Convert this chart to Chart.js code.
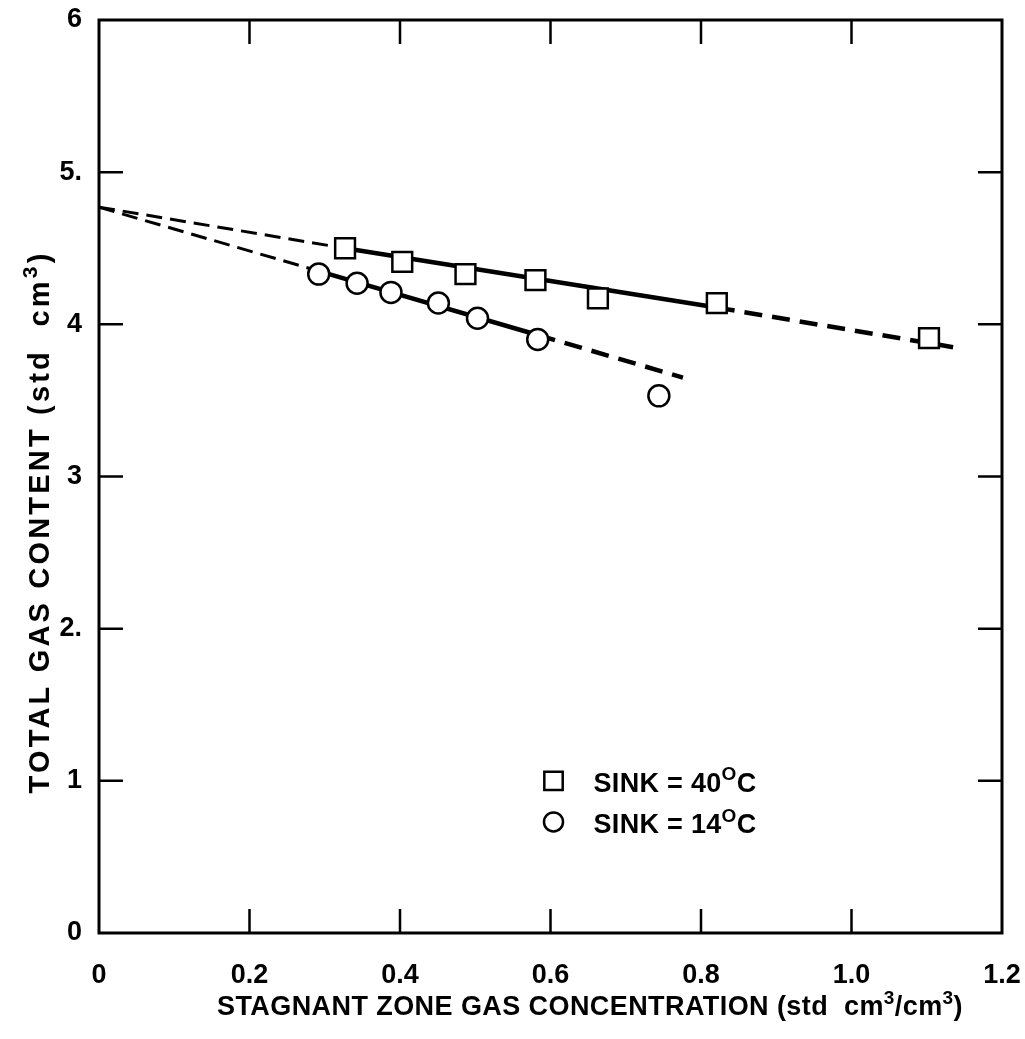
<!DOCTYPE html>
<html>
<head>
<meta charset="utf-8">
<script src="https://cdn.jsdelivr.net/npm/chart.js@4.4.1/dist/chart.umd.min.js"></script>
<style>
  html, body { margin: 0; padding: 0; background: #fff; }
  #wrap { width: 1025px; height: 1039px; }
</style>
</head>
<body>
<div id="wrap"><canvas id="myChart" width="1025" height="1039"></canvas></div>
<script>
// data
const sinkHotX = [0.327, 0.403, 0.487, 0.580, 0.663, 0.821, 1.103];
const sinkHotY = [4.50, 4.41, 4.33, 4.29, 4.17, 4.14, 3.91];
const sinkColdX = [0.292, 0.343, 0.388, 0.451, 0.503, 0.583, 0.744];
const sinkColdY = [4.33, 4.27, 4.21, 4.14, 4.04, 3.90, 3.53];

// fitted lines: [x, y] ends of each piece
const hotFitDashLeft = [[0, 4.77], [0.327, 4.50]];
const hotFitSolid = [[0.327, 4.50], [0.821, 4.11]];
const hotFitDashRight = [[0.821, 4.11], [1.135, 3.85]];
const coldFitDashLeft = [[0, 4.77], [0.292, 4.35]];
const coldFitSolid = [[0.292, 4.35], [0.583, 3.93]];
const coldFitDashRight = [[0.583, 3.93], [0.776, 3.65]];

const xTicks = [0, 0.2, 0.4, 0.6, 0.8, 1.0, 1.2];
const yTicks = [0, 1, 2, 3, 4, 5, 6];
const yTickLabels = ["0", "1", "2.", "3", "4", "5.", "6"];

const legendLabels = [
  [{t: "SINK = 40"}, {t: "O", sup: true}, {t: "C"}],
  [{t: "SINK = 14"}, {t: "O", sup: true}, {t: "C"}]
];
const xTitle = [{t: "STAGNANT ZONE GAS CONCENTRATION (std  cm"}, {t: "3", sup: true}, {t: "/cm"}, {t: "3", sup: true}, {t: ")"}];
const yTitle = [{t: "TOTAL GAS CONTENT (std  cm"}, {t: "3", sup: true}, {t: ")"}];

const FONT = "'Liberation Sans', Arial, sans-serif";

const toPts = (arr) => arr.map((p) => ({x: p[0], y: p[1]}));
const toXY = (xs, ys) => xs.map((x, i) => ({x: x, y: ys[i]}));

//line dataset helper
const lineSet = (pts, width, dash) => ({
  type: 'line',
  data: toPts(pts),
  borderColor: '#000',
  borderWidth: width,
  borderDash: dash,
  borderCapStyle: 'butt',
  pointRadius: 0,
  fill: false,
  order: 2
});

//draw text made of normal and superscript parts; target = wanted width (0 = natural)
const drawRich = (ctx, parts, x, y, size, target, align) => {
  ctx.save();
  const fontFor = (p) => 'bold ' + (p.sup ? Math.round(size * 0.72) : size) + 'px ' + FONT;
  let natural = parts.map((p) => {
    ctx.font = fontFor(p);
    return ctx.measureText(p.t).width;
  });
  let chars = parts.reduce((n, p) => n + p.t.length, 0);
  let sum = natural.reduce((a, b) => a + b, 0);
  let spacing = target ? (target - sum) / chars : 0.5;
  ctx.letterSpacing = spacing + 'px';
  let widths = parts.map((p) => {
    ctx.font = fontFor(p);
    return ctx.measureText(p.t).width;
  });
  let total = widths.reduce((a, b) => a + b, 0);
  let cx = align === 'left' ? x : x - total / 2;
  ctx.fillStyle = '#000';
  ctx.textBaseline = 'alphabetic';
  ctx.textAlign = 'left';
  parts.forEach((p, i) => {
    ctx.font = fontFor(p);
    ctx.fillText(p.t, cx, p.sup ? y - size * 0.42 : y);
    cx += widths[i];
  });
  ctx.restore();
};

//frame, inward ticks, titles and legend
const decor = {
  id: 'decor',
  afterDraw(chart) {
    const ctx = chart.ctx;
    const a = chart.chartArea;
    const xs = chart.scales.x;
    const ys = chart.scales.y;
    ctx.save();
    ctx.strokeStyle = '#000';
    ctx.lineWidth = 3;
    ctx.strokeRect(a.left, a.top, a.right - a.left, a.bottom - a.top);
    ctx.lineWidth = 2.5;
    const len = 24;
    ctx.beginPath();
    xTicks.slice(1, -1).forEach((v) => {
      let px = xs.getPixelForValue(v);
      ctx.moveTo(px, a.bottom); ctx.lineTo(px, a.bottom - len);
      ctx.moveTo(px, a.top); ctx.lineTo(px, a.top + len);
    });
    yTicks.slice(1, -1).forEach((v) => {
      let py = ys.getPixelForValue(v);
      ctx.moveTo(a.left, py); ctx.lineTo(a.left + len, py);
      ctx.moveTo(a.right, py); ctx.lineTo(a.right - len, py);
    });
    ctx.stroke();
    ctx.restore();

    // axis titles
    drawRich(ctx, xTitle, 590, 1015, 27, 746, 'center');
    ctx.save();
    ctx.translate(49, 522);
    ctx.rotate(-Math.PI / 2);
    drawRich(ctx, yTitle, 0, 0, 29, 543, 'center');
    ctx.restore();

    // legend
    const marks = [chart.data.datasets[0], chart.data.datasets[1]];
    const lx = xs.getPixelForValue(0.604);
    const rows = [ys.getPixelForValue(1.0), ys.getPixelForValue(0.73)];
    marks.forEach((ds, i) => {
      ctx.save();
      ctx.strokeStyle = '#000';
      ctx.fillStyle = '#fff';
      ctx.lineWidth = 2.5;
      Chart.helpers.drawPoint(ctx, {pointStyle: ds.pointStyle, radius: ds.pointStyle === 'rect' ? 13 : 9.5, borderWidth: 2.5}, lx, rows[i]);
      ctx.restore();
      drawRich(ctx, legendLabels[i], lx + 40, rows[i] + 11, 27, 163, 'left');
    });
  }
};

const data = {
  datasets: [
    {
      type: 'scatter',
      label: 'SINK = 40 C',
      data: toXY(sinkHotX, sinkHotY),
      pointStyle: 'rect',
      pointRadius: 14,
      pointBackgroundColor: '#fff',
      pointBorderColor: '#000',
      pointBorderWidth: 2.5,
      order: 1
    },
    {
      type: 'scatter',
      label: 'SINK = 14 C',
      data: toXY(sinkColdX, sinkColdY),
      pointStyle: 'circle',
      pointRadius: 10.5,
      pointBackgroundColor: '#fff',
      pointBorderColor: '#000',
      pointBorderWidth: 2.5,
      order: 1
    },
    lineSet(hotFitDashLeft, 3, [16, 8]),
    lineSet(hotFitSolid, 4.5, []),
    lineSet(hotFitDashRight, 4.5, [18, 10]),
    lineSet(coldFitDashLeft, 3, [16, 8]),
    lineSet(coldFitSolid, 4.5, []),
    lineSet(coldFitDashRight, 4.5, [18, 10])
  ]
};

const tickFont = {family: FONT, size: 27, weight: 'bold'};

const config = {
  type: 'scatter',
  data,
  options: {
    responsive: false,
    animation: false,
    layout: {padding: {left: 0, right: 23, top: 20, bottom: 0}},
    plugins: {legend: {display: false}, tooltip: {enabled: false}},
    scales: {
      x: {
        type: 'linear',
        min: 0,
        max: 1.2,
        afterBuildTicks: (s) => { s.ticks = xTicks.map((v) => ({value: v})); },
        afterFit: (s) => { s.height = 106; s.paddingLeft = 0; s.paddingRight = 0; },
        grid: {display: false, drawTicks: false},
        border: {display: false},
        ticks: {
          color: '#000',
          font: tickFont,
          padding: 26,
          maxRotation: 0,
          callback: (v) => v === 0 ? '0' : v.toFixed(1)
        }
      },
      y: {
        type: 'linear',
        min: 0,
        max: 6,
        afterBuildTicks: (s) => { s.ticks = yTicks.map((v) => ({value: v})); },
        afterFit: (s) => { s.width = 99; s.paddingTop = 0; s.paddingBottom = 0; },
        grid: {display: false, drawTicks: false},
        border: {display: false},
        ticks: {
          color: '#000',
          font: tickFont,
          padding: 17,
          callback: (v) => yTickLabels[yTicks.indexOf(v)]
        }
      }
    }
  },
  plugins: [decor]
};

let ctx = document.getElementById('myChart');
let myChart = new Chart(ctx, config);
</script>
</body>
</html>
